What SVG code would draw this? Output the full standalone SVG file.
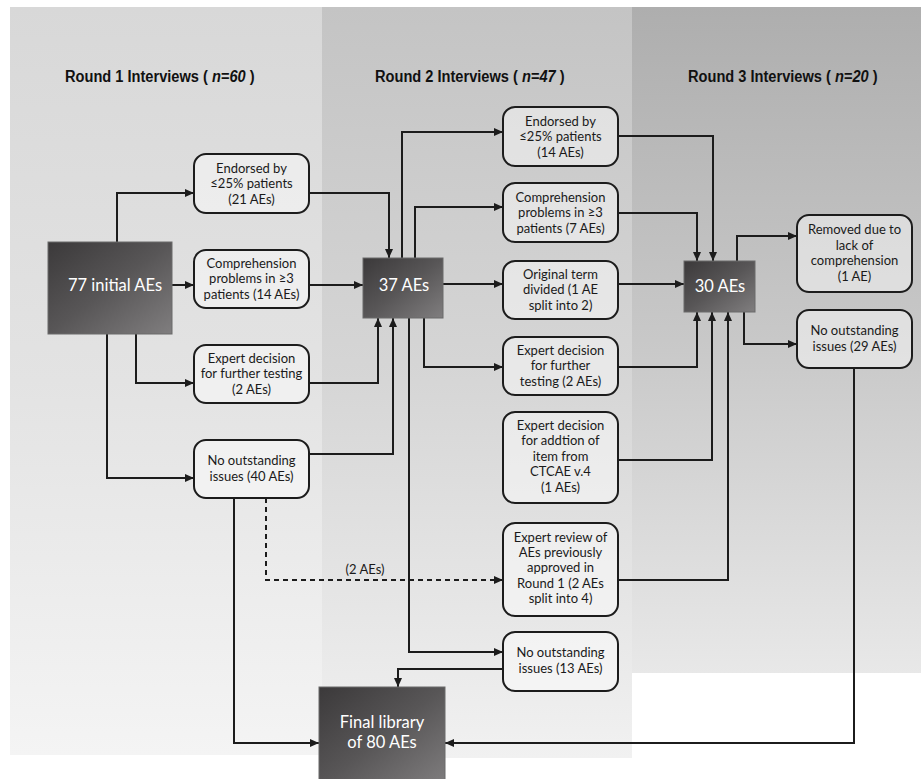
<svg xmlns="http://www.w3.org/2000/svg" width="921" height="779" viewBox="0 0 921 779">
<defs>
<linearGradient id="bg1" x1="0" y1="0" x2="0" y2="1"><stop offset="0" stop-color="#d8d8d8"/><stop offset="0.5" stop-color="#e3e3e3"/><stop offset="1" stop-color="#f4f4f4"/></linearGradient>
<linearGradient id="bg2" x1="0" y1="0" x2="0" y2="1"><stop offset="0" stop-color="#c4c4c4"/><stop offset="0.5" stop-color="#d6d6d6"/><stop offset="1" stop-color="#f1f1f1"/></linearGradient>
<linearGradient id="bg3" x1="0" y1="0" x2="0" y2="1"><stop offset="0" stop-color="#aeaeae"/><stop offset="0.5" stop-color="#c8c8c8"/><stop offset="1" stop-color="#e8e8e8"/></linearGradient>
<linearGradient id="dark" x1="0" y1="0" x2="1" y2="1"><stop offset="0" stop-color="#3b393a"/><stop offset="0.5" stop-color="#585657"/><stop offset="1" stop-color="#807e7f"/></linearGradient>
<marker id="arr" markerUnits="userSpaceOnUse" markerWidth="10" markerHeight="8" refX="9" refY="4" orient="auto"><path d="M0,0 L9,4 L0,8 z" fill="#1c1c1c"/></marker>
</defs>
<style>
.title{font-family:"Liberation Sans",Arial,sans-serif;font-weight:bold;font-size:17px;fill:#111;}
.it{font-style:italic;}
.box{fill:#ffffff;fill-opacity:0.45;stroke:#1c1c1c;stroke-width:2;}
.dk{fill:url(#dark);stroke:#6a6a6a;stroke-width:1;}
.t{font-family:Lato,"Open Sans","Noto Sans",sans-serif;font-size:13px;fill:#1a1a1a;text-anchor:middle;}
.w{font-family:Lato,"Open Sans","Noto Sans",sans-serif;font-size:16.5px;fill:#ffffff;text-anchor:middle;}
.c{fill:none;stroke:#1c1c1c;stroke-width:2;marker-end:url(#arr);}
.d{stroke-dasharray:5,4;}
</style>
<rect x="0" y="0" width="921" height="779" fill="#ffffff"/>
<rect x="10" y="7" width="312" height="748" fill="url(#bg1)"/>
<rect x="322" y="7" width="310" height="751" fill="url(#bg2)"/>
<rect x="632" y="7" width="289" height="666" fill="url(#bg3)"/>
<g id="titles">
<text class="title" transform="translate(65,82) scale(0.86,1)">Round 1 Interviews ( <tspan class="it">n=60</tspan> )</text>
<text class="title" transform="translate(375,82) scale(0.86,1)">Round 2 Interviews ( <tspan class="it">n=47</tspan> )</text>
<text class="title" transform="translate(688,82) scale(0.86,1)">Round 3 Interviews ( <tspan class="it">n=20</tspan> )</text>
</g>
<g id="connectors">
<path class="c" d="M117,242 V193 H194"/>
<path class="c" d="M172,285 H194"/>
<path class="c" d="M136,334 V383 H194"/>
<path class="c" d="M107,334 V478 H194"/>
<path class="c" d="M309,193 H389 V258"/>
<path class="c" d="M309,285 H363"/>
<path class="c" d="M309,383 H378 V318"/>
<path class="c" d="M309,454 H393 V318"/>
<path class="c" d="M402,258 V132 H503"/>
<path class="c" d="M415,258 V207 H503"/>
<path class="c" d="M443,284 H503"/>
<path class="c" d="M424,318 V367 H503"/>
<path class="c" d="M409,318 V652 H503"/>
<path class="c" d="M618,136 H713 V261"/>
<path class="c" d="M618,213 H697 V261"/>
<path class="c" d="M618,284 H684"/>
<path class="c" d="M618,367 H697 V312"/>
<path class="c" d="M618,460 H712 V312"/>
<path class="c" d="M618,580 H728 V312"/>
<path class="c" d="M737,261 V236 H797"/>
<path class="c" d="M744,312 V344 H797"/>
<path class="c" d="M854,368 V743 H445"/>
<path class="c" d="M234,498 V743 H319"/>
<path class="c d" d="M266,498 V580 H503"/>
<path class="c" d="M503,669 H398 V687"/>
<text class="t" x="365" y="574">(2 AEs)</text>
</g>
<g id="n77">
<rect class="dk" x="48" y="242" width="124" height="92"/>
<text class="w" x="115" y="291">77 initial AEs</text>
</g>
<g id="r1b1">
<rect class="box" x="194" y="154" width="115" height="59" rx="12"/>
<text class="t" x="251.5" y="172.5">Endorsed by<tspan x="251.5" dy="15.5">≤25% patients</tspan><tspan x="251.5" dy="15.5">(21 AEs)</tspan></text>
</g>
<g id="r1b2">
<rect class="box" x="194" y="250" width="115" height="58" rx="12"/>
<text class="t" x="251.5" y="267.5">Comprehension<tspan x="251.5" dy="15.5">problems in ≥3</tspan><tspan x="251.5" dy="15.5">patients (14 AEs)</tspan></text>
</g>
<g id="r1b3">
<rect class="box" x="194" y="345" width="115" height="58" rx="12"/>
<text class="t" x="251.5" y="362.5">Expert decision<tspan x="251.5" dy="15.5">for further testing</tspan><tspan x="251.5" dy="15.5">(2 AEs)</tspan></text>
</g>
<g id="r1b4">
<rect class="box" x="194" y="440" width="115" height="58" rx="12"/>
<text class="t" x="251.5" y="465">No outstanding<tspan x="251.5" dy="15.5">issues (40 AEs)</tspan></text>
</g>
<g id="n37">
<rect class="dk" x="363" y="258" width="80" height="60"/>
<text class="w" x="404" y="291">37 AEs</text>
</g>
<g id="r2b1">
<rect class="box" x="503" y="107" width="115" height="59" rx="12"/>
<text class="t" x="560.5" y="125.5">Endorsed by<tspan x="560.5" dy="15.5">≤25% patients</tspan><tspan x="560.5" dy="15.5">(14 AEs)</tspan></text>
</g>
<g id="r2b2">
<rect class="box" x="503" y="183" width="115" height="59" rx="12"/>
<text class="t" x="560.5" y="201.5">Comprehension<tspan x="560.5" dy="15.5">problems in ≥3</tspan><tspan x="560.5" dy="15.5">patients (7 AEs)</tspan></text>
</g>
<g id="r2b3">
<rect class="box" x="503" y="261" width="115" height="58" rx="12"/>
<text class="t" x="560.5" y="278.5">Original term<tspan x="560.5" dy="15.5">divided (1 AE</tspan><tspan x="560.5" dy="15.5">split into 2)</tspan></text>
</g>
<g id="r2b4">
<rect class="box" x="503" y="337" width="115" height="58" rx="12"/>
<text class="t" x="560.5" y="354.5">Expert decision<tspan x="560.5" dy="15.5">for further</tspan><tspan x="560.5" dy="15.5">testing (2 AEs)</tspan></text>
</g>
<g id="r2b5">
<rect class="box" x="503" y="412" width="115" height="91" rx="12"/>
<text class="t" x="560.5" y="430">Expert decision<tspan x="560.5" dy="15.4">for addtion of</tspan><tspan x="560.5" dy="15.4">item from</tspan><tspan x="560.5" dy="15.4">CTCAE v.4</tspan><tspan x="560.5" dy="15.4">(1 AEs)</tspan></text>
</g>
<g id="r2b6">
<rect class="box" x="503" y="523" width="115" height="93" rx="12"/>
<text class="t" x="560.5" y="541.5">Expert review of<tspan x="560.5" dy="15.4">AEs previously</tspan><tspan x="560.5" dy="15.4">approved in</tspan><tspan x="560.5" dy="15.4">Round 1 (2 AEs</tspan><tspan x="560.5" dy="15.4">split into 4)</tspan></text>
</g>
<g id="r2b7">
<rect class="box" x="503" y="632" width="115" height="59" rx="12"/>
<text class="t" x="560.5" y="657">No outstanding<tspan x="560.5" dy="15.5">issues (13 AEs)</tspan></text>
</g>
<g id="n30">
<rect class="dk" x="684" y="261" width="71" height="51"/>
<text class="w" x="720" y="292">30 AEs</text>
</g>
<g id="r3b1">
<rect class="box" x="797" y="215" width="115" height="77" rx="12"/>
<text class="t" x="854.5" y="234">Removed due to<tspan x="854.5" dy="15.5">lack of</tspan><tspan x="854.5" dy="15.5">comprehension</tspan><tspan x="854.5" dy="15.5">(1 AE)</tspan></text>
</g>
<g id="r3b2">
<rect class="box" x="797" y="310" width="115" height="58" rx="12"/>
<text class="t" x="854.5" y="335">No outstanding<tspan x="854.5" dy="15.5">issues (29 AEs)</tspan></text>
</g>
<g id="final">
<rect class="dk" x="319" y="687" width="126" height="100"/>
<text class="w" x="382" y="728">Final library<tspan x="382" dy="20">of 80 AEs</tspan></text>
</g>
</svg>
